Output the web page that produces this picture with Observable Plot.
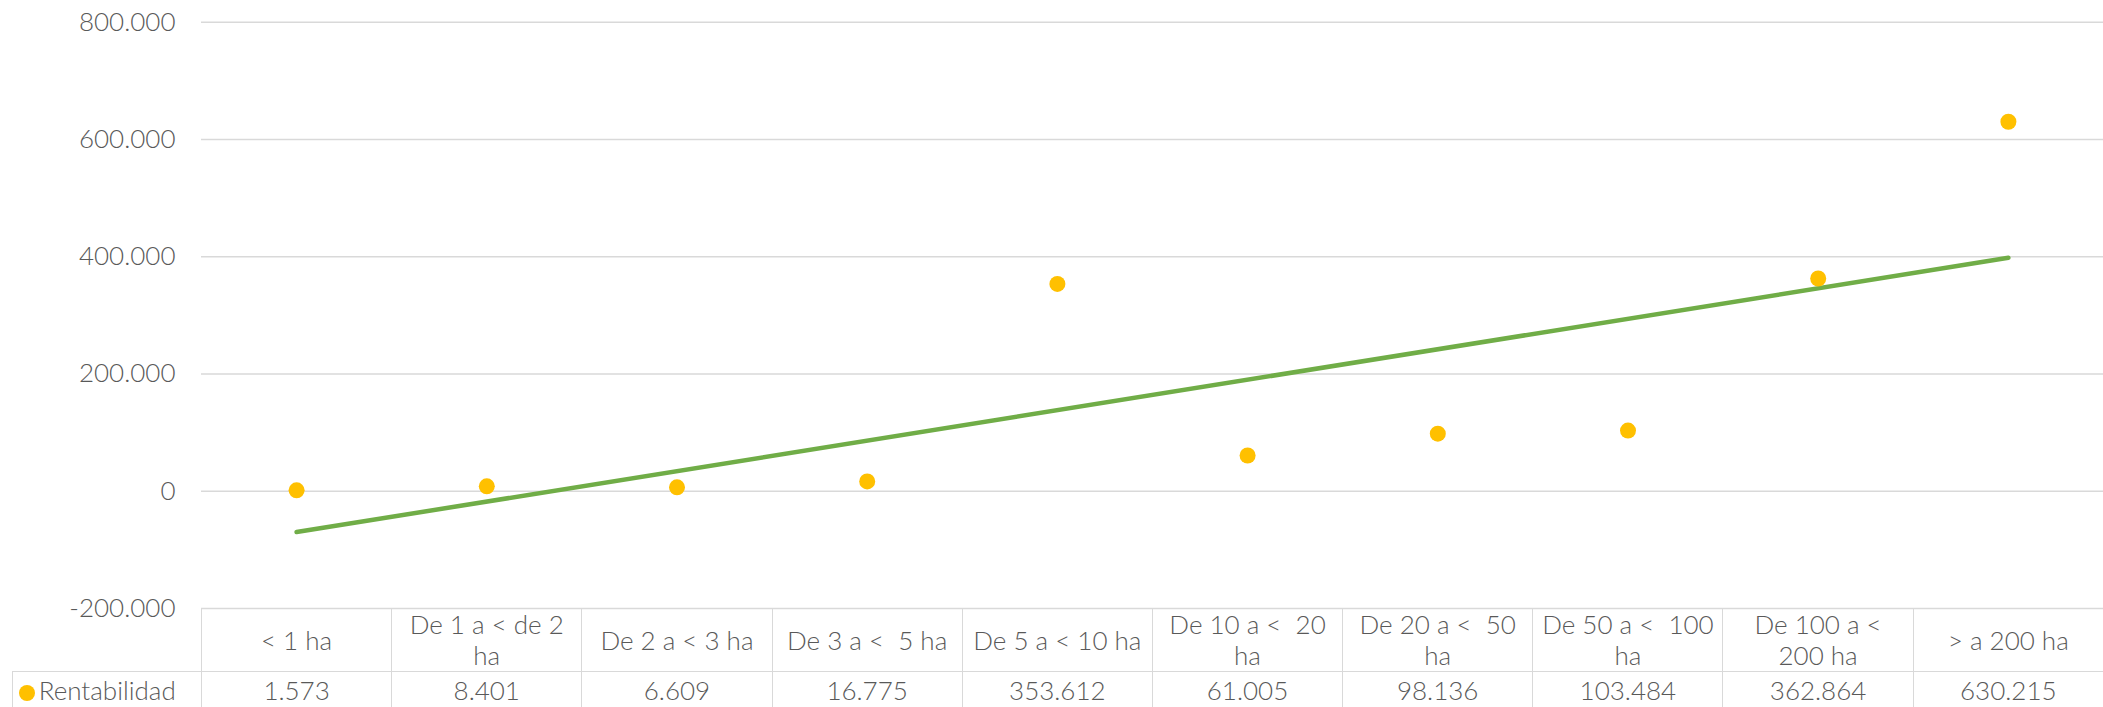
<!DOCTYPE html>
<html>
<head>
<meta charset="utf-8">
<script src="https://cdn.jsdelivr.net/npm/d3@7"></script>
<script src="https://cdn.jsdelivr.net/npm/@observablehq/plot@0.6"></script>
<style>
  html, body { margin: 0; padding: 0; background: #fff; }
  body { width: 2103px; height: 707px; overflow: hidden; font-family: Lato, "Open Sans", sans-serif; }
  #chart svg { display: block; overflow: visible; }
  table.dt { border-collapse: collapse; table-layout: fixed; margin-left: 11.7px; width: 2091.3px;
             font-family: Lato, sans-serif; font-weight: 300; font-size: 26px; color: #595959; position: relative; z-index: 1; background: transparent; }
  table.dt td { border: 1.6px solid #d9d9d9; text-align: center; padding: 0; white-space: pre; line-height: 31px; }
  table.dt tr.hdr td { height: 62px; }
  table.dt tr.hdr td.blank { border: none; }
  table.dt tr.val td { height: 36px; }
  table.dt td.leg { text-align: left; padding-left: 6px; }
  .mk { display: inline-block; width: 16px; height: 16px; border-radius: 50%; background: #FFC000; vertical-align: -1px; margin-right: 4px; }
</style>
</head>
<body>
<div id="chart"></div>
<script>
// ---- data ----
const categories = ["< 1 ha", "De 1 a < de 2\nha", "De 2 a < 3 ha", "De 3 a <  5 ha", "De 5 a < 10 ha",
                    "De 10 a <  20\nha", "De 20 a <  50\nha", "De 50 a <  100\nha", "De 100 a <\n200 ha", "> a 200 ha"];
const rentabilidad = [1573, 8401, 6609, 16775, 353612, 61005, 98136, 103484, 362864, 630215];
const seriesName = "Rentabilidad";
const yTicks = [-200000, 0, 200000, 400000, 600000, 800000];

const locale = d3.formatLocale({decimal: ",", thousands: ".", grouping: [3], currency: ["", ""], minus: "-"});
const fmt = locale.format(",d");

const data = rentabilidad.map((v, i) => ({idx: i + 1, cat: categories[i], value: v}));

const plot = Plot.plot({
  width: 2103,
  height: 608,
  marginLeft: 201,
  marginRight: 0,
  marginTop: 21.7,
  marginBottom: 0,
  style: {fontFamily: "Lato, sans-serif", fontWeight: 300, fontSize: "26px", color: "#595959", overflow: "visible", background: "transparent"},
  x: {domain: [0.5, categories.length + 0.5], axis: null},
  y: {domain: [-200000, 800000], ticks: yTicks},
  marks: [
    Plot.gridY(yTicks, {stroke: "#d9d9d9", strokeOpacity: 1, strokeWidth: 1.6}),
    Plot.axisY(yTicks, {tickSize: 0, tickPadding: 26, tickFormat: fmt, fill: "#595959", fontSize: 26, label: null}),
    Plot.linearRegressionY(data, {x: "idx", y: "value", stroke: "#70AD47", strokeWidth: 4.5, strokeLinecap: "round", ci: 0}),
    Plot.dot(data, {x: "idx", y: "value", r: 8, fill: "#FFC000", stroke: "none"})
  ]
});
document.getElementById("chart").appendChild(plot);

// ---- data table below the chart ----
const table = document.createElement("table");
table.className = "dt";
const colgroup = document.createElement("colgroup");
const c0 = document.createElement("col"); c0.style.width = "189.3px"; colgroup.appendChild(c0);
categories.forEach(() => { const c = document.createElement("col"); c.style.width = "190.2px"; colgroup.appendChild(c); });
table.appendChild(colgroup);
const hdr = document.createElement("tr"); hdr.className = "hdr";
const blank = document.createElement("td"); blank.className = "blank"; hdr.appendChild(blank);
categories.forEach(c => { const td = document.createElement("td"); td.textContent = c; hdr.appendChild(td); });
const val = document.createElement("tr"); val.className = "val";
const leg = document.createElement("td"); leg.className = "leg";
const mk = document.createElement("span"); mk.className = "mk"; leg.appendChild(mk);
leg.appendChild(document.createTextNode(seriesName));
val.appendChild(leg);
rentabilidad.forEach(v => { const td = document.createElement("td"); td.textContent = fmt(v); val.appendChild(td); });
table.appendChild(hdr); table.appendChild(val);
document.body.appendChild(table);
</script>
</body>
</html>
